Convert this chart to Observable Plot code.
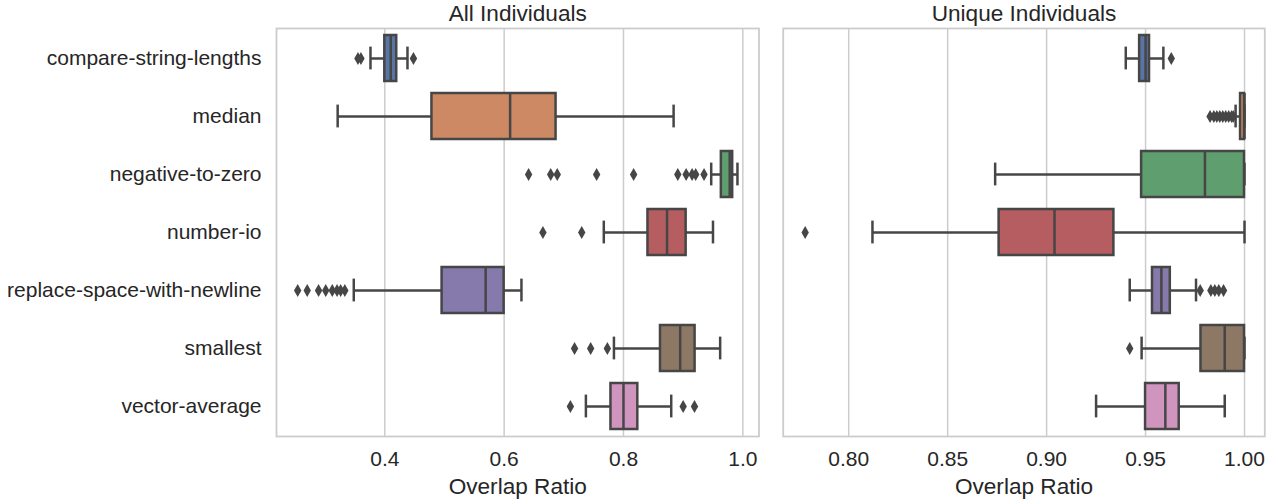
<!DOCTYPE html>
<html>
<head>
<meta charset="utf-8">
<script src="https://cdn.jsdelivr.net/npm/d3@7"></script>
<script src="https://cdn.jsdelivr.net/npm/@observablehq/plot@0.6"></script>
<style>
  html, body { margin: 0; padding: 0; background: #fff; }
  #wrap { display: flex; flex-direction: row; width: 1278px; }
  svg { display: block; }
</style>
</head>
<body>
<div id="wrap"></div>
<script>
// ---- data ----
const categories = ["compare-string-lengths", "median", "negative-to-zero", "number-io",
  "replace-space-with-newline", "smallest", "vector-average"];
const palette = ["#4c72b0", "#dd8452", "#55a868", "#c44e52", "#8172b3", "#937860", "#da8bc3"];

// Panel 1: All Individuals
const allTicks = [0.4, 0.6, 0.8, 1.0];
const allLo  = [0.376, 0.321, 0.947, 0.767, 0.348, 0.784, 0.737];
const allQ1  = [0.400, 0.479, 0.964, 0.841, 0.496, 0.862, 0.779];
const allMed = [0.410, 0.610, 0.978, 0.873, 0.569, 0.895, 0.800];
const allQ3  = [0.420, 0.687, 0.983, 0.905, 0.600, 0.920, 0.824];
const allHi  = [0.438, 0.884, 0.991, 0.950, 0.629, 0.962, 0.880];
const allOutliers = [
  [0.355, 0.360, 0.448],
  [],
  [0.641, 0.678, 0.689, 0.755, 0.817, 0.891, 0.905, 0.915, 0.921, 0.935],
  [0.665, 0.730],
  [0.254, 0.270, 0.289, 0.301, 0.312, 0.320, 0.326, 0.333],
  [0.718, 0.745, 0.773],
  [0.711, 0.900, 0.919]
];

// Panel 2: Unique Individuals
const uniqTicks = [0.80, 0.85, 0.90, 0.95, 1.00];
const uniqLo  = [0.940, 0.9955, 0.874, 0.812, 0.942, 0.948, 0.925];
const uniqQ1  = [0.947, 0.998, 0.948, 0.876, 0.9535, 0.978, 0.950];
const uniqMed = [0.950, 1.000, 0.980, 0.904, 0.958, 0.990, 0.960];
const uniqQ3  = [0.952, 1.000, 1.000, 0.934, 0.9625, 1.000, 0.967];
const uniqHi  = [0.959, 1.000, 1.000, 1.000, 0.9755, 1.000, 0.990];
const uniqOutliers = [
  [0.963],
  [0.9826, 0.9845, 0.986, 0.9875, 0.989, 0.9905, 0.992, 0.9935, 0.9943],
  [],
  [0.778],
  [0.9776, 0.983, 0.985, 0.987, 0.9894],
  [0.942],
  []
];

// ---- styling ----
const lineGray = "#464646";
const gridGray = "#cccccc";
const font = "'Liberation Sans', Arial, Helvetica, sans-serif";
const boxColors = palette.map(c => { const h = d3.hsl(c); h.s *= 0.75; return h.formatHex(); });

function panel({title, lo, q1, med, q3, hi, outliers, ticks, fmt, domain, width, marginLeft, marginRight, showY}) {
  const rows = categories.map((c, i) => ({cat: c, lo: lo[i], q1: q1[i], med: med[i], q3: q3[i], hi: hi[i], color: boxColors[i]}));
  const pts = categories.flatMap((c, i) => outliers[i].map(v => ({cat: c, v})));
  return Plot.plot({
    width, height: 504,
    marginLeft, marginRight, marginTop: 28, marginBottom: 68,
    style: {fontFamily: font, fontSize: "21px", color: "#262626", background: "#fff", overflow: "visible"},
    x: {domain, ticks, tickFormat: d3.format(fmt), tickSize: 0, tickPadding: 15, label: null},
    y: {domain: categories, paddingInner: 0.2, paddingOuter: 0.1, tickSize: 0, tickPadding: 15, label: null, axis: showY ? "left" : null},
    color: {type: "identity"},
    marks: [
      Plot.gridX(ticks, {stroke: gridGray, strokeOpacity: 1, strokeWidth: 1.5}),
      Plot.frame({stroke: gridGray, strokeWidth: 1.8}),
      Plot.ruleY(rows, {y: "cat", x1: "lo", x2: "q1", stroke: lineGray, strokeWidth: 2.5}),
      Plot.ruleY(rows, {y: "cat", x1: "q3", x2: "hi", stroke: lineGray, strokeWidth: 2.5}),
      Plot.tickX(rows, {y: "cat", x: "lo", stroke: lineGray, strokeWidth: 2.5, insetTop: 11.6, insetBottom: 11.6}),
      Plot.tickX(rows, {y: "cat", x: "hi", stroke: lineGray, strokeWidth: 2.5, insetTop: 11.6, insetBottom: 11.6}),
      Plot.barX(rows, {y: "cat", x1: "q1", x2: "q3", fill: "color", stroke: lineGray, strokeWidth: 2.5}),
      Plot.tickX(rows, {y: "cat", x: "med", stroke: lineGray, strokeWidth: 2.5}),
      Plot.dot(pts, {y: "cat", x: "v", symbol: "diamond", r: 3.9, fill: lineGray, stroke: "none"}),
      Plot.text([title], {frameAnchor: "top", dy: -24, fontSize: 22.6, fill: "#262626", text: d => d}),
      Plot.text(["Overlap Ratio"], {frameAnchor: "bottom", dy: 57, fontSize: 22.6, fill: "#262626", text: d => d})
    ]
  });
}

const wrap = document.getElementById("wrap");
wrap.append(panel({
  title: "All Individuals", lo: allLo, q1: allQ1, med: allMed, q3: allQ3, hi: allHi, outliers: allOutliers,
  ticks: allTicks, fmt: ".1f", domain: [0.2185, 1.0271], width: 770, marginLeft: 276, marginRight: 11.5, showY: true
}));
wrap.append(panel({
  title: "Unique Individuals", lo: uniqLo, q1: uniqQ1, med: uniqMed, q3: uniqQ3, hi: uniqHi, outliers: uniqOutliers,
  ticks: uniqTicks, fmt: ".2f", domain: [0.7669, 1.01025], width: 508, marginLeft: 12.7, marginRight: 13.7, showY: false
}));
</script>
</body>
</html>
